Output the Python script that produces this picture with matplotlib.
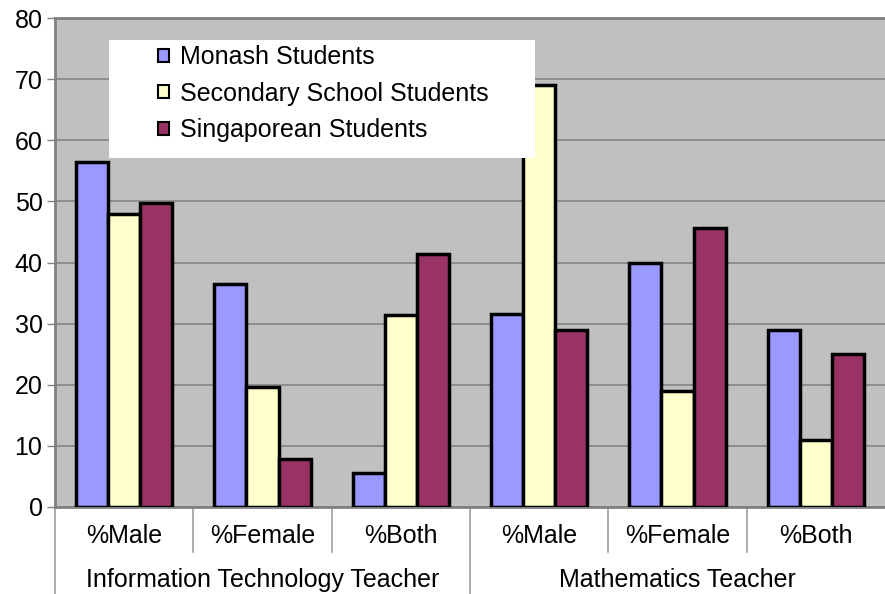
import numpy as np
import matplotlib.pyplot as plt
from matplotlib.patches import Rectangle

plt.rcParams['font.family'] = ['Liberation Sans', 'DejaVu Sans']

categories = ['%Male', '%Female', '%Both', '%Male', '%Female', '%Both']
groups = ['Information Technology Teacher', 'Mathematics Teacher']
series = ['Monash Students', 'Secondary School Students', 'Singaporean Students']
monash = [56.5, 36.5, 5.5, 31.5, 40, 29]
secondary = [48, 19.7, 31.4, 69, 19, 11]
singapore = [49.8, 7.8, 41.4, 29, 45.7, 25]
colors = ['#9999FF', '#FFFFCC', '#993366']
yticks = [0, 10, 20, 30, 40, 50, 60, 70, 80]

fs = 18
grey = '#808080'

fig = plt.figure(figsize=(8.85, 5.94), dpi=100)
ax = fig.add_axes([55 / 885, 87 / 594, 830 / 885, 489 / 594])
ax.set_facecolor('#C0C0C0')

x = np.arange(len(categories))
w = 0.232
for i, (vals, c, name) in enumerate(zip([monash, secondary, singapore], colors, series)):
    ax.bar(x + (i - 1) * w, vals, w, color=c, edgecolor='black', linewidth=2.5,
           label=name, zorder=3)

ax.set_xlim(-0.5, len(categories) - 0.5)
ax.set_ylim(0, 80)
ax.set_yticks(yticks)
ax.set_yticklabels([str(t) for t in yticks], fontsize=fs)
ax.set_xticks([])
ax.yaxis.grid(True, color=grey, linewidth=1.1, zorder=1)
ax.set_axisbelow(True)
ax.tick_params(axis='y', direction='out', length=6, width=1, color=grey, pad=3)

for side in ['left', 'top', 'bottom']:
    ax.spines[side].set_color(grey)
    ax.spines[side].set_linewidth(2)
ax.spines['right'].set_visible(False)

# two-level category axis underneath the plot
trans = ax.get_xaxis_transform()
for i, lab in enumerate(categories):
    ax.text(i, -0.06, lab, transform=trans, ha='center', va='center', fontsize=fs)
for b in [0.5, 1.5, 3.5, 4.5]:
    ax.plot([b, b], [0, -0.092], transform=trans, color='#A0A0A0', lw=1.2, clip_on=False)
for b in [-0.5, 2.5]:
    ax.plot([b, b], [0, -0.18], transform=trans, color='#A0A0A0', lw=1.2, clip_on=False)
for j, g in enumerate(groups):
    ax.text(j * 3 + 1, -0.149, g, transform=trans, ha='center', va='center', fontsize=fs)

# legend sits on a white panel over the bars
ax.add_patch(Rectangle(((109 - 55) / 830, (507 - 158) / 489),
                       (535 - 109) / 830, (158 - 40) / 489,
                       transform=ax.transAxes, facecolor='white', edgecolor='none',
                       zorder=5))
leg = ax.legend(loc='upper left', bbox_to_anchor=((158 - 55) / 830, (507 - 45) / 489),
                frameon=False, fontsize=fs, borderpad=0, borderaxespad=0,
                handlelength=0.42, handleheight=0.42, handletextpad=0.45,
                labelspacing=0.5)
leg.set_zorder(6)
for h in leg.legend_handles:
    h.set_linewidth(1.5)

fig.savefig('out.png', dpi=100)
